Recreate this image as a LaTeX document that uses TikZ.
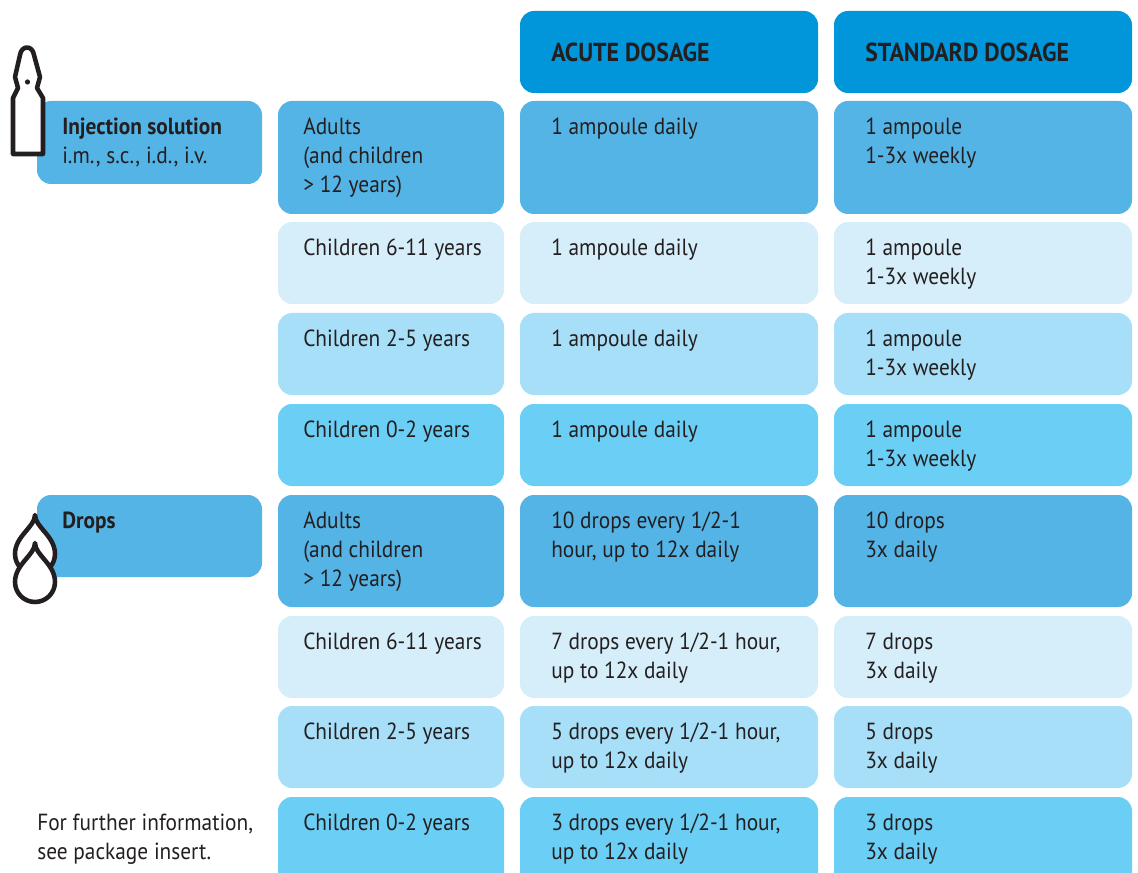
\documentclass[tikz,border=0pt]{standalone}
\usepackage{fontspec}
\setmainfont{PT Sans}[FakeStretch=0.915]
\definecolor{headblue}{RGB}{0,150,217}
\definecolor{midblue}{RGB}{85,180,230}
\definecolor{paleblue}{RGB}{214,238,250}
\definecolor{lightblue}{RGB}{168,223,248}
\definecolor{skyblue}{RGB}{107,206,245}
\definecolor{inkgray}{RGB}{35,31,32}

\begin{document}
\begin{tikzpicture}[x=0.75pt,y=-0.75pt,
  cell/.style={rounded corners=10.5pt},
  txt/.style={anchor=north west,align=left,text=inkgray,
    font=\fontsize{17.5}{21.75}\selectfont},
  headtxt/.style={anchor=north west,text=inkgray,
    font=\fontsize{19.5}{21.75}\selectfont\bfseries},
  icon/.style={line width=3.4pt,draw=inkgray,fill=white,line join=round}]
\tikzstyle{every node}+=[inner sep=0pt]
\clip (0,0) rectangle (1138,873);
% header
\fill [headblue, cell] (520,11) rectangle (818,93);
\node [headtxt] (acute) at (551,43) {ACUTE DOSAGE};
\fill [headblue, cell] (834,11) rectangle (1132,93);
\node [headtxt] (standard) at (865,43) {STANDARD DOSAGE};
% forms
\fill [midblue, cell] (37,101) rectangle (262,184);
\node [txt] (injection) at (62,118) {\textbf{Injection solution}\\i.m., s.c., i.d., i.v.};
\fill [midblue, cell] (37,495) rectangle (262,577);
\node [txt] (drops) at (62,512) {\textbf{Drops}};
% injection rows
\fill [midblue, cell] (278,101) rectangle (504,214);
\fill [midblue, cell] (520,101) rectangle (818,214);
\fill [midblue, cell] (834,101) rectangle (1132,214);
\node [txt] (inj1) at (303,118) {Adults\\(and children\\> 12 years)};
\node [txt] (inj1a) at (551,118) {1 ampoule daily};
\node [txt] (inj1s) at (865,118) {1 ampoule\\1-3x weekly};
\fill [paleblue, cell] (278,222) rectangle (504,304);
\fill [paleblue, cell] (520,222) rectangle (818,304);
\fill [paleblue, cell] (834,222) rectangle (1132,304);
\node [txt] (inj2) at (303,239) {Children 6-11 years};
\node [txt] (inj2a) at (551,239) {1 ampoule daily};
\node [txt] (inj2s) at (865,239) {1 ampoule\\1-3x weekly};
\fill [lightblue, cell] (278,313) rectangle (504,395);
\fill [lightblue, cell] (520,313) rectangle (818,395);
\fill [lightblue, cell] (834,313) rectangle (1132,395);
\node [txt] (inj3) at (303,330) {Children 2-5 years};
\node [txt] (inj3a) at (551,330) {1 ampoule daily};
\node [txt] (inj3s) at (865,330) {1 ampoule\\1-3x weekly};
\fill [skyblue, cell] (278,404) rectangle (504,486);
\fill [skyblue, cell] (520,404) rectangle (818,486);
\fill [skyblue, cell] (834,404) rectangle (1132,486);
\node [txt] (inj4) at (303,421) {Children 0-2 years};
\node [txt] (inj4a) at (551,421) {1 ampoule daily};
\node [txt] (inj4s) at (865,421) {1 ampoule\\1-3x weekly};
% drops rows
\fill [midblue, cell] (278,495) rectangle (504,607);
\fill [midblue, cell] (520,495) rectangle (818,607);
\fill [midblue, cell] (834,495) rectangle (1132,607);
\node [txt] (drp1) at (303,512) {Adults\\(and children\\> 12 years)};
\node [txt] (drp1a) at (551,512) {10 drops every 1/2-1\\hour, up to 12x daily};
\node [txt] (drp1s) at (865,512) {10 drops\\3x daily};
\fill [paleblue, cell] (278,616) rectangle (504,698);
\fill [paleblue, cell] (520,616) rectangle (818,698);
\fill [paleblue, cell] (834,616) rectangle (1132,698);
\node [txt] (drp2) at (303,633) {Children 6-11 years};
\node [txt] (drp2a) at (551,633) {7 drops every 1/2-1 hour,\\up to 12x daily};
\node [txt] (drp2s) at (865,633) {7 drops\\3x daily};
\fill [lightblue, cell] (278,706) rectangle (504,788);
\fill [lightblue, cell] (520,706) rectangle (818,788);
\fill [lightblue, cell] (834,706) rectangle (1132,788);
\node [txt] (drp3) at (303,723) {Children 2-5 years};
\node [txt] (drp3a) at (551,723) {5 drops every 1/2-1 hour,\\up to 12x daily};
\node [txt] (drp3s) at (865,723) {5 drops\\3x daily};
\fill [skyblue, cell] (278,797) rectangle (504,890);
\fill [skyblue, cell] (520,797) rectangle (818,890);
\fill [skyblue, cell] (834,797) rectangle (1132,890);
\node [txt] (drp4) at (303,814) {Children 0-2 years};
\node [txt] (drp4a) at (551,814) {3 drops every 1/2-1 hour,\\up to 12x daily};
\node [txt] (drp4s) at (865,814) {3 drops\\3x daily};
% footnote
\node [txt] (note) at (37,814) {For further information,\\see package insert.};
% ampoule
\draw [icon] (13,154) -- (13,98) -- (18,88) -- (15,77) -- (20,55)
  .. controls (21.5,45) and (32.5,45) .. (34,55) -- (40,77) -- (37,88)
  -- (43,98) -- (43,154) -- cycle;
\fill [inkgray] (27.5,82) circle (2.6);
% drops
\draw [icon] (35,515) .. controls (35,527) and (15,536) .. (15,554)
  arc [start angle=180, end angle=0, radius=20]
  .. controls (55,536) and (35,527) .. (35,515) -- cycle;
\draw [icon] (35,543) .. controls (35,555) and (15,564) .. (15,582)
  arc [start angle=180, end angle=0, radius=20]
  .. controls (55,564) and (35,555) .. (35,543) -- cycle;
\end{tikzpicture}
\end{document}
